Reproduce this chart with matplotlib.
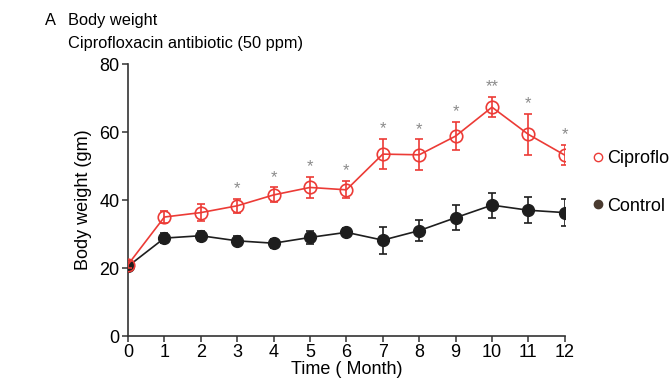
import matplotlib
matplotlib.use("Agg")
import matplotlib.pyplot as plt
from matplotlib.lines import Line2D

plt.rcParams['font.family'] = ['Liberation Sans', 'DejaVu Sans']

months = [0, 1, 2, 3, 4, 5, 6, 7, 8, 9, 10, 11, 12]
cipro = [21.0, 35.0, 36.3, 38.3, 41.5, 43.7, 43.0, 53.5, 53.3, 58.8, 67.3, 59.3, 53.2]
cipro_err = [1.0, 1.8, 2.5, 2.0, 2.2, 3.0, 2.5, 4.5, 4.5, 4.2, 3.0, 6.0, 3.0]
control = [20.5, 28.8, 29.5, 28.0, 27.3, 29.0, 30.5, 28.2, 31.0, 34.8, 38.5, 37.0, 36.3]
control_err = [1.0, 1.5, 1.5, 1.3, 1.3, 1.8, 1.2, 4.0, 3.0, 3.7, 3.7, 3.8, 4.0]
# significance marks for the cipro group
stars = ['', '', '', '*', '*', '*', '*', '*', '*', '*', '**', '*', '*']
# legend labels as they appear in the figure (first one is cut by the panel edge)
legend_labels = ['Ciproflo', 'Control']

red = '#ec3b36'
black = '#1e1e1e'

fig = plt.figure(figsize=(6.7, 3.81), dpi=100)
ax = fig.add_axes([0.191, 0.118, 0.652, 0.714])

ax.errorbar(months, control, yerr=control_err, color=black, marker='o', ms=8.5,
            lw=1.2, elinewidth=1.2, capsize=3, capthick=1.2, zorder=3)
ax.errorbar(months, cipro, yerr=cipro_err, color=red, marker='o', ms=9,
            mfc='none', mec=red, mew=1.2, lw=1.2, elinewidth=1.2,
            capsize=3, capthick=1.2, zorder=4)

for x, y, e, s in zip(months, cipro, cipro_err, stars):
    if s:
        ax.text(x, y + e + 0.8, s, ha='center', va='bottom', fontsize=12,
                color='#8a8a8a')

ax.set_xlim(0, 12)
ax.set_ylim(0, 80)
ax.set_xticks(months)
ax.set_yticks([0, 20, 40, 60, 80])
ax.tick_params(labelsize=13, length=4, width=1.1, color='#333333', pad=2)
for side in ['top', 'right']:
    ax.spines[side].set_visible(False)
for side in ['left', 'bottom']:
    ax.spines[side].set_linewidth(1.2)
    ax.spines[side].set_color('#333333')
ax.set_xlabel('Time ( Month)', fontsize=13, labelpad=0)
ax.set_ylabel('Body weight (gm)', fontsize=13, labelpad=5)

fig.text(0.067, 0.935, 'A', fontsize=11.8)
fig.text(0.101, 0.935, 'Body weight', fontsize=11.8)
fig.text(0.101, 0.875, 'Ciprofloxacin antibiotic (50 ppm)', fontsize=11.8)

handles = [Line2D([], [], ls='none', marker='o', ms=6, mfc='none', mec=red, mew=1),
           Line2D([], [], ls='none', marker='o', ms=6, color='#4a3b30')]
ax.legend(handles, legend_labels, loc='center left',
          bbox_to_anchor=(1.03, 0.565), frameon=False, fontsize=13,
          handlelength=0.4, handletextpad=0.3, labelspacing=1.7)

fig.savefig('out.png', dpi=100)
